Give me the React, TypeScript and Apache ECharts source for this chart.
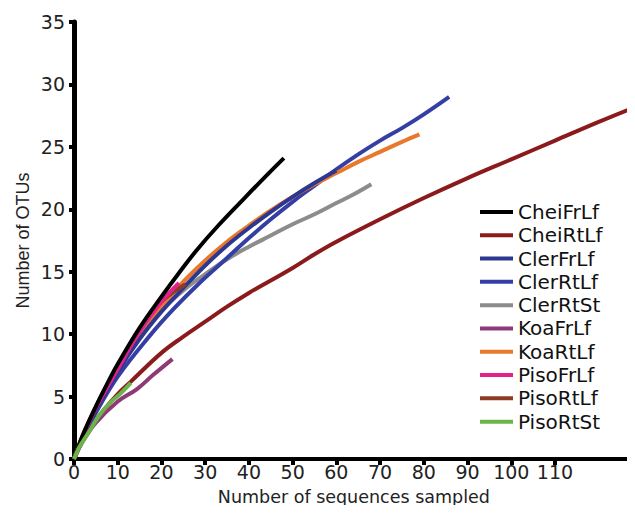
import React, { useEffect, useRef } from "react";
import * as echarts from "echarts";

const seriesNames = [
  "CheiFrLf",
  "CheiRtLf",
  "ClerFrLf",
  "ClerRtLf",
  "ClerRtSt",
  "KoaFrLf",
  "KoaRtLf",
  "PisoFrLf",
  "PisoRtLf",
  "PisoRtSt",
];

const seriesColors: Record<string, string> = {
  CheiFrLf: "#000000",
  CheiRtLf: "#8B1A1C",
  ClerFrLf: "#2E3790",
  ClerRtLf: "#353FA3",
  ClerRtSt: "#8C8C8C",
  KoaFrLf: "#8E3A76",
  KoaRtLf: "#E8782A",
  PisoFrLf: "#E0228A",
  PisoRtLf: "#8F3B22",
  PisoRtSt: "#6BB548",
};

const xTickValues = [0, 10, 20, 30, 40, 50, 60, 70, 80, 90, 100, 110];
const yTickValues = [0, 5, 10, 15, 20, 25, 30, 35];

const cheiFrLf = [[0, 0], [2, 1.9], [5, 4.2], [8, 6.3], [10, 7.6], [15, 10.5], [20, 13.0], [24, 14.9], [28, 16.7], [33, 18.7], [39, 20.9], [44, 22.7], [48, 24.1]];
const cheiRtLf = [[0, 0], [2, 1.5], [4, 2.6], [7, 4.0], [10, 5.2], [13, 6.2], [20, 8.5], [25, 9.8], [30, 11.0], [35, 12.2], [40, 13.3], [45, 14.3], [50, 15.3], [55, 16.4], [60, 17.4], [70, 19.2], [80, 20.9], [90, 22.5], [100, 24.0], [110, 25.5], [120, 27.0], [127.7, 28.1]];
const clerFrLf = [[0, 0], [2, 1.7], [5, 3.9], [10, 7.0], [15, 9.6], [20, 11.8], [25, 13.7], [30, 15.5], [35, 17.1], [40, 18.5], [45, 19.8], [50, 21.0], [55, 22.1], [60, 23.1]];
const clerRtLf = [[0, 0], [2, 1.6], [5, 3.7], [10, 6.6], [17.4, 9.9], [23, 12.1], [29, 14.2], [35, 16.1], [40, 17.7], [45, 19.2], [50, 20.6], [55, 21.9], [60, 23.2], [65, 24.4], [70, 25.5], [75, 26.5], [80, 27.6], [85.8, 29.0]];
const clerRtSt = [[0, 0], [2, 1.7], [5, 3.9], [10, 7.0], [15, 9.8], [20, 11.9], [25, 13.5], [30, 14.8], [35, 16.0], [40, 17.0], [45, 17.9], [50, 18.8], [55, 19.6], [60, 20.5], [64, 21.2], [68, 22.0]];
const koaFrLf = [[0, 0], [2, 1.4], [5, 2.9], [10, 4.6], [14.4, 5.6], [18, 6.7], [22.5, 8.0]];
const koaRtLf = [[0, 0], [2, 1.8], [5, 4.1], [10, 7.3], [15, 10.0], [20, 12.2], [25, 14.2], [30, 15.9], [35, 17.4], [40, 18.7], [45, 19.9], [50, 21.0], [55, 22.0], [60, 22.9], [65, 23.8], [70, 24.6], [75, 25.4], [79, 26.0]];
const pisoFrLf = [[0, 0], [2, 1.8], [5, 4.1], [10, 7.2], [15, 10.2], [20, 12.6], [24, 14.1]];
const pisoRtLf = [[0, 0], [2, 1.9], [5, 4.2], [8, 6.2], [10, 7.3], [15, 10.3], [20, 12.6], [25.5, 14.0]];
const pisoRtSt = [[0, 0], [1, 0.8], [2, 1.4], [3.7, 2.3], [5, 3.1], [6.7, 3.9], [8.5, 4.6], [10.5, 5.2], [13, 6.1]];

const seriesData: Record<string, number[][]> = {
  CheiFrLf: cheiFrLf,
  CheiRtLf: cheiRtLf,
  ClerFrLf: clerFrLf,
  ClerRtLf: clerRtLf,
  ClerRtSt: clerRtSt,
  KoaFrLf: koaFrLf,
  KoaRtLf: koaRtLf,
  PisoFrLf: pisoFrLf,
  PisoRtLf: pisoRtLf,
  PisoRtSt: pisoRtSt,
};

// drawing order (later on top)
const drawOrder = [
  "CheiRtLf",
  "ClerRtSt",
  "ClerRtLf",
  "KoaRtLf",
  "ClerFrLf",
  "KoaFrLf",
  "PisoRtLf",
  "PisoFrLf",
  "CheiFrLf",
  "PisoRtSt",
];

export default function App() {
  const ref = useRef<HTMLDivElement>(null);
  useEffect(() => {
    if (!ref.current) return;
    const chart = echarts.init(ref.current, undefined, { renderer: "svg" });
    const font = "DejaVu Sans";
    chart.setOption({
      animation: false,
      backgroundColor: "#ffffff",
      grid: { left: 74, right: 1.3, top: 22, bottom: 54, containLabel: false },
      legend: {
        orient: "vertical",
        left: 480,
        top: 200.3,
        padding: 0,
        itemWidth: 33,
        itemHeight: 4,
        itemGap: 0,
        icon: "rect",
        selectedMode: false,
        data: seriesNames,
        textStyle: {
          fontFamily: font,
          fontSize: 20,
          lineHeight: 23.3,
          color: "#111",
        },
      },
      xAxis: {
        type: "value",
        min: 0,
        max: 128,
        interval: 10,
        name: "Number of sequences sampled",
        nameLocation: "middle",
        nameGap: 29,
        nameTextStyle: { fontFamily: font, fontSize: 17.5, color: "#222" },
        axisLine: { show: true, onZero: false, lineStyle: { color: "#000", width: 4 } },
        axisTick: { show: true, length: 6, lineStyle: { color: "#000", width: 4 }, customValues: xTickValues },
        axisLabel: { fontFamily: font, fontSize: 19, color: "#222", margin: 3, customValues: xTickValues },
        splitLine: { show: false },
      },
      yAxis: {
        type: "value",
        min: 0,
        max: 35,
        interval: 5,
        name: "Number of OTUs",
        nameLocation: "middle",
        nameGap: 42,
        nameMoveOverlap: false,
        nameTextStyle: { fontFamily: "Liberation Sans", fontSize: 18, color: "#222" },
        axisLine: { show: true, onZero: false, lineStyle: { color: "#000", width: 5 } },
        axisTick: { show: true, length: 5, lineStyle: { color: "#000", width: 4 }, customValues: yTickValues },
        axisLabel: { fontFamily: font, fontSize: 19, color: "#222", margin: 9, customValues: yTickValues },
        splitLine: { show: false },
      },
      series: drawOrder.map((name) => ({
        name,
        type: "line",
        data: seriesData[name],
        showSymbol: false,
        symbol: "none",
        smooth: 0.4,
        clip: false,
        color: seriesColors[name],
        lineStyle: { width: 4, color: seriesColors[name] },
        emphasis: { disabled: true },
      })),
    });
    return () => chart.dispose();
  }, []);
  return <div ref={ref} style={{ width: 635, height: 513, margin: -8 }} />;
}
